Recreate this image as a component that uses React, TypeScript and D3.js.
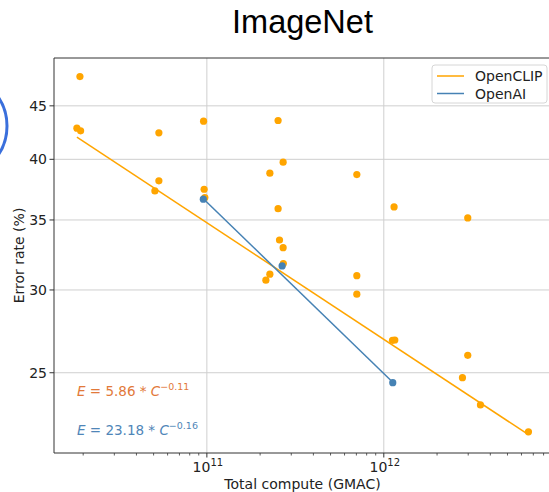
import React from "react";
import * as d3 from "d3";

// OpenCLIP models: total compute (GMAC) and ImageNet error rate (%)
const openclipCompute = [
  1.917e10, 1.843e10, 1.934e10, 5.356e10, 9.58e10, 5.356e10, 5.085e10, 9.65e10, 9.74e10,
  2.27e11, 2.527e11, 2.698e11, 7.04e11, 2.527e11, 1.143e12, 2.982e12, 2.574e11, 2.698e11,
  2.705e11, 2.27e11, 2.155e11, 7.04e11, 7.04e11, 1.12e12, 1.154e12, 2.982e12, 2.783e12,
  3.518e12, 6.57e12,
];
const openclipError = [
  48.0, 42.84, 42.59, 42.4, 43.51, 38.15, 37.31, 37.45, 36.77,
  38.8, 43.57, 39.75, 38.68, 35.88, 36.02, 35.16, 33.49, 32.93,
  31.8, 31.06, 30.65, 30.96, 29.72, 26.85, 26.87, 25.98, 24.73,
  23.29, 21.95,
];

// OpenAI models
const openaiCompute = [9.55e10, 2.663e11, 1.124e12];
const openaiError = [36.64, 31.63, 24.46];

// Power-law fits, error as a fraction: E = a * C^b
const openclipFit = { a: 5.86, b: -0.1115 };
const openaiFit = { a: 23.18, b: -0.164 };

const yTicks = [25, 30, 35, 40, 45];
const xMajorExponents = [11, 12];
const seriesNames = ["OpenCLIP", "OpenAI"];

const W = 549;
const H = 492;
const M = { left: 54, right: 551, top: 58, bottom: 453 };

const ORANGE = "#ffa500";
const BLUE = "#4682b4";
const FONT = "'DejaVu Sans', sans-serif";

export default function App() {
  const x = d3.scaleLog().domain([1.368e10, 8.81e12]).range([M.left, M.right]);
  const y = d3.scaleLog().domain([20.95, 50.0]).range([M.bottom, M.top]);

  const fitLine = (fit: { a: number; b: number }, cs: number[]) => {
    const [c0, c1] = d3.extent(cs) as [number, number];
    const pts = [c0, c1].map((c) => [c, 100 * fit.a * Math.pow(c, fit.b)] as [number, number]);
    return d3
      .line<[number, number]>()
      .x((d) => x(d[0]))
      .y((d) => y(d[1]))(pts) as string;
  };

  // log minor ticks within the domain
  const minor: number[] = [];
  for (let e = 10; e <= 12; e++) {
    for (let m = 2; m <= 9; m++) {
      const v = m * Math.pow(10, e);
      if (v >= x.domain()[0] && v <= x.domain()[1]) minor.push(v);
    }
  }

  const fmtExp = (b: number) => "\u2212" + Math.abs(b).toFixed(2);

  return (
    <svg
      width={W}
      height={H}
      style={{ position: "absolute", left: 0, top: 0, background: "#fff" }}
      fontFamily={FONT}
    >
      <rect x={0} y={0} width={W} height={H} fill="#fff" />

      {/* title */}
      <text
        x={(M.left + M.right) / 2}
        y={33}
        textAnchor="middle"
        fontSize={32.5}
        fontFamily="'Liberation Sans', Arial, sans-serif"
        fill="#000"
      >
        ImageNet
      </text>

      {/* highlight ring at the left edge */}
      <circle cx={-45} cy={126} r={52} fill="none" stroke="#3a6fdc" strokeWidth={3} />

      {/* grid */}
      <g stroke="#cfcfcf" strokeWidth={1}>
        {yTicks.map((t) => (
          <line key={"gy" + t} x1={M.left} x2={M.right} y1={y(t)} y2={y(t)} />
        ))}
        {xMajorExponents.map((e) => (
          <line
            key={"gx" + e}
            x1={x(Math.pow(10, e))}
            x2={x(Math.pow(10, e))}
            y1={M.top}
            y2={M.bottom}
          />
        ))}
      </g>

      {/* fit lines */}
      <path d={fitLine(openclipFit, openclipCompute)} fill="none" stroke={ORANGE} strokeWidth={1.5} />
      <path d={fitLine(openaiFit, openaiCompute)} fill="none" stroke={BLUE} strokeWidth={1.5} />

      {/* points */}
      {openclipCompute.map((c, i) => (
        <circle key={"o" + i} cx={x(c)} cy={y(openclipError[i])} r={3.6} fill={ORANGE} />
      ))}
      {openaiCompute.map((c, i) => (
        <circle key={"b" + i} cx={x(c)} cy={y(openaiError[i])} r={3.6} fill={BLUE} />
      ))}

      {/* spines */}
      <g stroke="#333" strokeWidth={1} fill="none">
        <line x1={M.left} x2={M.left} y1={M.top} y2={M.bottom} />
        <line x1={M.left} x2={M.right} y1={M.bottom} y2={M.bottom} />
        <line x1={M.left} x2={M.right} y1={M.top} y2={M.top} />
        <line x1={M.right} x2={M.right} y1={M.top} y2={M.bottom} />
      </g>

      {/* y axis */}
      {yTicks.map((t) => (
        <g key={"yt" + t}>
          <line x1={M.left - 4.5} x2={M.left} y1={y(t)} y2={y(t)} stroke="#333" />
          <text x={M.left - 7} y={y(t)} dy="0.36em" textAnchor="end" fontSize={14} fill="#222">
            {t}
          </text>
        </g>
      ))}
      <text
        transform={`translate(19,${(M.top + M.bottom) / 2}) rotate(-90)`}
        textAnchor="middle"
        dy="0.35em"
        fontSize={14}
        fill="#222"
      >
        Error rate (%)
      </text>

      {/* x axis */}
      {minor.map((v) => (
        <line key={"mx" + v} x1={x(v)} x2={x(v)} y1={M.bottom} y2={M.bottom + 2.5} stroke="#333" strokeWidth={0.8} />
      ))}
      {xMajorExponents.map((e) => (
        <g key={"xt" + e}>
          <line x1={x(Math.pow(10, e))} x2={x(Math.pow(10, e))} y1={M.bottom} y2={M.bottom + 4.5} stroke="#333" />
          <text x={x(Math.pow(10, e)) + 1} y={471.5} textAnchor="middle" fontSize={14} fill="#222">
            10
            <tspan dy={-5.5} fontSize={10}>
              {e}
            </tspan>
          </text>
        </g>
      ))}
      <text x={(M.left + M.right) / 2} y={489} textAnchor="middle" fontSize={14} fill="#222">
        Total compute (GMAC)
      </text>

      {/* fit equations */}
      <text x={77} y={395.5} fontSize={13.5} fill="#e2793a">
        <tspan fontStyle="oblique">E</tspan>
        <tspan>{" = " + openclipFit.a.toFixed(2) + " * "}</tspan>
        <tspan fontStyle="oblique">C</tspan>
        <tspan dy={-6} fontSize={9.5}>
          {fmtExp(openclipFit.b)}
        </tspan>
      </text>
      <text x={77} y={435} fontSize={13.5} fill="#4f86b8">
        <tspan fontStyle="oblique">E</tspan>
        <tspan>{" = " + openaiFit.a.toFixed(2) + " * "}</tspan>
        <tspan fontStyle="oblique">C</tspan>
        <tspan dy={-6} fontSize={9.5}>
          {fmtExp(openaiFit.b)}
        </tspan>
      </text>

      {/* legend */}
      <g>
        <rect x={432} y={65} width={115} height={38} rx={3} fill="#fff" fillOpacity={0.85} stroke="#d6d6d6" />
        {seriesNames.map((name, i) => (
          <g key={name}>
            <line
              x1={437}
              x2={464}
              y1={76 + i * 17.5}
              y2={76 + i * 17.5}
              stroke={i === 0 ? ORANGE : BLUE}
              strokeWidth={1.5}
            />
            <text x={475} y={76 + i * 17.5} dy="0.36em" fontSize={14} fill="#222">
              {name}
            </text>
          </g>
        ))}
      </g>
    </svg>
  );
}
